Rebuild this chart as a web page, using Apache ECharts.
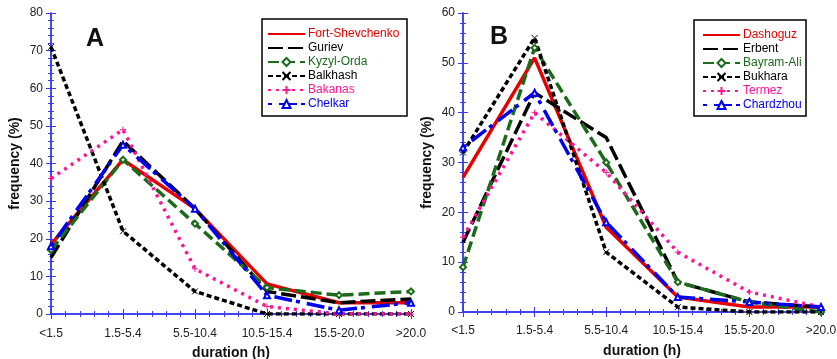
<!DOCTYPE html>
<html><head><meta charset="utf-8">
<script src="https://cdn.jsdelivr.net/npm/echarts@6/dist/echarts.min.js"></script>
<style>html,body{margin:0;padding:0;background:#fff}#c{width:837px;height:359px}</style>
</head><body><div id="c"></div>
<script>
// ---- data ----
const categories = ['<1.5', '1.5-5.4', '5.5-10.4', '10.5-15.4', '15.5-20.0', '>20.0'];
const yTicksA = [0, 10, 20, 30, 40, 50, 60, 70, 80];
const yTicksB = [0, 10, 20, 30, 40, 50, 60];

const namesA = ['Fort-Shevchenko', 'Guriev', 'Kyzyl-Orda', 'Balkhash', 'Bakanas', 'Chelkar'];
const fortShevchenko = [18.5, 41, 28, 8, 3, 3];
const guriev         = [15, 46, 28, 6, 3, 4];
const kyzylOrda      = [17, 41, 24, 7, 5, 6];
const balkhash       = [71, 22, 6, 0, 0, 0];
const bakanas        = [36, 49, 12, 2, 0, 0];
const chelkar        = [18, 45, 28, 5, 1, 3];

const namesB = ['Dashoguz', 'Erbent', 'Bayram-Ali', 'Bukhara', 'Termez', 'Chardzhou'];
const dashoguz  = [27, 51, 17, 3, 1, 1];
const erbent    = [14, 44, 35, 6, 2, 1];
const bayramAli = [9, 53, 30, 6, 2, 0];
const bukhara   = [32, 55, 12, 1, 0, 0];
const termez    = [15, 40, 28, 12, 4, 1];
const chardzhou = [33, 44, 18, 3, 2, 1];

// ---- styles ----
const FONT = '"Liberation Sans", Arial, sans-serif';
const AX = '#3a3af0';
const RED = '#e60000', BLK = '#000000', GRN = '#1c6b1c', PNK = '#ff1493', BLU = '#0000f0';
const crossPath = 'path://M0,0L10,10M10,0L0,10';
const plusPath = 'path://M5,0L5,10M0,5L10,5';

const styles = [
  {color: RED, type: 'solid', symbol: 'none', w: 3.5},
  {color: BLK, type: [15, 5], symbol: 'none', w: 3.5},
  {color: GRN, type: [11, 5], symbol: 'emptyDiamond', w: 3.5},
  {color: BLK, type: [5, 3], symbol: crossPath, w: 3.5},
  {color: PNK, type: [3, 5], symbol: plusPath, w: 3.5},
  {color: BLU, type: [4, 7, 18, 4], symbol: 'emptyTriangle', w: 3.5}
];

function mkSeries(name, vals, st, gi) {
  return {
    name: name, type: 'line', xAxisIndex: gi * 2, yAxisIndex: gi * 2,
    data: vals.map((v, i) => [i, v]),
    symbol: st.symbol, symbolSize: 6, showSymbol: st.symbol !== 'none',
    lineStyle: {color: st.color, width: st.w, type: st.type},
    itemStyle: {color: st.color, borderColor: st.color, borderWidth: 1},
    emphasis: {disabled: true}, animation: false, z: 2
  };
}

function xAxes(gi, margin) {
  const base = {
    type: 'value', gridIndex: gi, min: 0, max: categories.length - 1, interval: 1,
    axisLine: {show: true, lineStyle: {color: AX, width: 1.5}},
    axisTick: {show: true, inside: true, length: 5, lineStyle: {color: AX, width: 1}},
    minorTick: {show: true, splitNumber: 5, length: 3, lineStyle: {color: AX, width: 1}},
    splitLine: {show: false}
  };
  return [
    Object.assign({}, base, {
      position: 'bottom',
      axisLabel: {color: '#222', fontSize: 12, fontFamily: FONT, margin: margin,
        formatter: v => categories[Math.round(v)] || ''},
      name: 'duration (h)', nameLocation: 'middle', nameGap: 32,
      nameTextStyle: {color: '#111', fontSize: 14, fontWeight: 'bold', fontFamily: FONT}
    }),
    Object.assign({}, base, {position: 'top', axisLabel: {show: false}})
  ];
}
function yAxes(gi, ticks) {
  const base = {
    type: 'value', gridIndex: gi, min: ticks[0], max: ticks[ticks.length - 1],
    interval: ticks[1] - ticks[0],
    axisLine: {show: true, lineStyle: {color: AX, width: 1.5}},
    axisTick: {show: true, inside: true, length: 5, lineStyle: {color: AX, width: 1}},
    minorTick: {show: true, splitNumber: 5, length: 3, lineStyle: {color: AX, width: 1}},
    splitLine: {show: false}
  };
  return [
    Object.assign({}, base, {
      position: 'left',
      axisLabel: {color: '#222', fontSize: 12, fontFamily: FONT, margin: 8},
      name: 'frequency (%)', nameLocation: 'middle', nameGap: 29,
      nameTextStyle: {color: '#111', fontSize: 14, fontWeight: 'bold', fontFamily: FONT}
    }),
    Object.assign({}, base, {position: 'right', axisLabel: {show: false}})
  ];
}

function legendFor(names, left, top) {
  return {
    orient: 'vertical', left: left, top: top, padding: 5,
    itemWidth: 37, itemHeight: 10, itemGap: 2,
    data: names.map((n, i) => {
      const d = {name: n, textStyle: {color: styles[i].color}};
      if (styles[i].symbol === 'none') d.itemStyle = {opacity: 0};
      return d;
    }),
    textStyle: {fontSize: 12, fontFamily: FONT, padding: [0, 0, 0, -2]},
    selectedMode: false
  };
}

const seriesA = [fortShevchenko, guriev, kyzylOrda, balkhash, bakanas, chelkar]
  .map((v, i) => mkSeries(namesA[i], v, styles[i], 0));
const seriesB = [dashoguz, erbent, bayramAli, bukhara, termez, chardzhou]
  .map((v, i) => mkSeries(namesB[i], v, styles[i], 1));

const chart = echarts.init(document.getElementById('c'), null, {renderer: 'canvas'});
chart.setOption({
  animation: false,
  backgroundColor: '#fff',
  grid: [
    {left: 51, right: 426, top: 13, bottom: 45, containLabel: false, outerBoundsMode: 'none'},
    {left: 463, right: 16, top: 13, bottom: 47, containLabel: false, outerBoundsMode: 'none'}
  ],
  xAxis: xAxes(0, 14).concat(xAxes(1, 13)),
  yAxis: yAxes(0, yTicksA).concat(yAxes(1, yTicksB)),
  legend: [legendFor(namesA, 262, 23), legendFor(namesB, 697, 24)],
  series: seriesA.concat(seriesB),
  graphic: [
    {type: 'rect', shape: {x: 262, y: 19, width: 145, height: 97}, z: 100,
      style: {fill: 'none', stroke: '#000', lineWidth: 1.5}},
    {type: 'rect', shape: {x: 694, y: 20, width: 112, height: 96}, z: 100,
      style: {fill: 'none', stroke: '#000', lineWidth: 1.5}},
    {type: 'text', left: 86, top: 27, z: 100,
      style: {text: 'A', font: 'bold 25px ' + FONT, fill: '#111'}},
    {type: 'text', left: 490, top: 25, z: 100,
      style: {text: 'B', font: 'bold 25px ' + FONT, fill: '#111'}}
  ]
});
</script></body></html>
